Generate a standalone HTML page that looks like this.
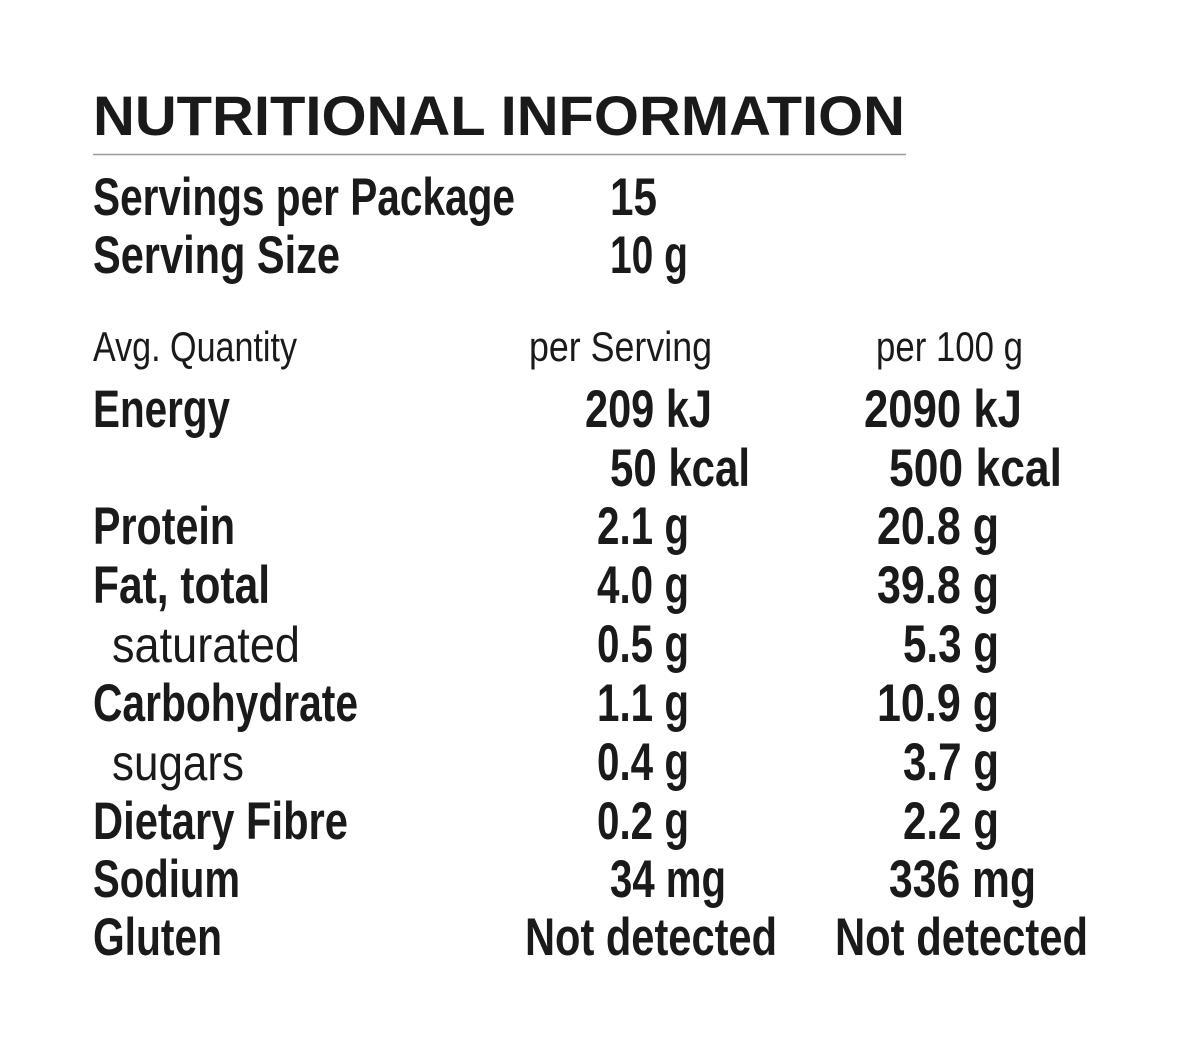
<!DOCTYPE html>
<html><head><meta charset="utf-8"><style>
html,body{margin:0;padding:0;background:#fff;}
svg{display:block;}
text{font-family:"Liberation Sans",sans-serif;fill:#1a1a1a;}
.b{font-weight:bold;font-size:53px;}
.r{font-size:50px;}
.s{font-size:42px;}
</style></head><body>
<svg width="1186" height="1048" viewBox="0 0 1186 1048" xmlns="http://www.w3.org/2000/svg">
<text x="93" y="135" style="font-weight:bold;font-size:56px" textLength="812" lengthAdjust="spacingAndGlyphs">NUTRITIONAL INFORMATION</text>
<line x1="93" y1="154.5" x2="906" y2="154.5" stroke="#999" stroke-width="1.5"/>

<text class="b" x="93" y="215" textLength="422" lengthAdjust="spacingAndGlyphs">Servings per Package</text>
<text class="b" x="610" y="215" textLength="47" lengthAdjust="spacingAndGlyphs">15</text>
<text class="b" x="93" y="273" textLength="247" lengthAdjust="spacingAndGlyphs">Serving Size</text>
<text class="b" x="610" y="273" textLength="78" lengthAdjust="spacingAndGlyphs">10 g</text>

<text class="s" x="93" y="361" textLength="204" lengthAdjust="spacingAndGlyphs">Avg. Quantity</text>
<text class="s" x="529" y="361" textLength="183" lengthAdjust="spacingAndGlyphs">per Serving</text>
<text class="s" x="876" y="361" textLength="147" lengthAdjust="spacingAndGlyphs">per 100 g</text>

<text class="b" x="93" y="427" textLength="137" lengthAdjust="spacingAndGlyphs">Energy</text>
<text class="b" x="585" y="427" textLength="127" lengthAdjust="spacingAndGlyphs">209 kJ</text>
<text class="b" x="864" y="427" textLength="158" lengthAdjust="spacingAndGlyphs">2090 kJ</text>
<text class="b" x="610" y="486" textLength="140" lengthAdjust="spacingAndGlyphs">50 kcal</text>
<text class="b" x="889" y="486" textLength="173" lengthAdjust="spacingAndGlyphs">500 kcal</text>

<text class="b" x="93" y="544" textLength="142" lengthAdjust="spacingAndGlyphs">Protein</text>
<text class="b" x="597" y="544" textLength="92" lengthAdjust="spacingAndGlyphs">2.1 g</text>
<text class="b" x="877" y="544" textLength="122" lengthAdjust="spacingAndGlyphs">20.8 g</text>

<text class="b" x="93" y="603" textLength="177" lengthAdjust="spacingAndGlyphs">Fat, total</text>
<text class="b" x="597" y="603" textLength="92" lengthAdjust="spacingAndGlyphs">4.0 g</text>
<text class="b" x="877" y="603" textLength="122" lengthAdjust="spacingAndGlyphs">39.8 g</text>

<text class="r" x="112" y="662" textLength="188" lengthAdjust="spacingAndGlyphs">saturated</text>
<text class="b" x="597" y="662" textLength="92" lengthAdjust="spacingAndGlyphs">0.5 g</text>
<text class="b" x="903" y="662" textLength="96" lengthAdjust="spacingAndGlyphs">5.3 g</text>

<text class="b" x="93" y="721" textLength="265" lengthAdjust="spacingAndGlyphs">Carbohydrate</text>
<text class="b" x="597" y="721" textLength="92" lengthAdjust="spacingAndGlyphs">1.1 g</text>
<text class="b" x="877" y="721" textLength="122" lengthAdjust="spacingAndGlyphs">10.9 g</text>

<text class="r" x="112" y="780" textLength="132" lengthAdjust="spacingAndGlyphs">sugars</text>
<text class="b" x="597" y="780" textLength="92" lengthAdjust="spacingAndGlyphs">0.4 g</text>
<text class="b" x="903" y="780" textLength="96" lengthAdjust="spacingAndGlyphs">3.7 g</text>

<text class="b" x="93" y="839" textLength="255" lengthAdjust="spacingAndGlyphs">Dietary Fibre</text>
<text class="b" x="597" y="839" textLength="92" lengthAdjust="spacingAndGlyphs">0.2 g</text>
<text class="b" x="903" y="839" textLength="96" lengthAdjust="spacingAndGlyphs">2.2 g</text>

<text class="b" x="93" y="897" textLength="147" lengthAdjust="spacingAndGlyphs">Sodium</text>
<text class="b" x="610" y="897" textLength="116" lengthAdjust="spacingAndGlyphs">34 mg</text>
<text class="b" x="889" y="897" textLength="147" lengthAdjust="spacingAndGlyphs">336 mg</text>

<text class="b" x="93" y="955" textLength="129" lengthAdjust="spacingAndGlyphs">Gluten</text>
<text class="b" x="525" y="955" textLength="252" lengthAdjust="spacingAndGlyphs">Not detected</text>
<text class="b" x="835" y="955" textLength="253" lengthAdjust="spacingAndGlyphs">Not detected</text>
</svg>
</body></html>
